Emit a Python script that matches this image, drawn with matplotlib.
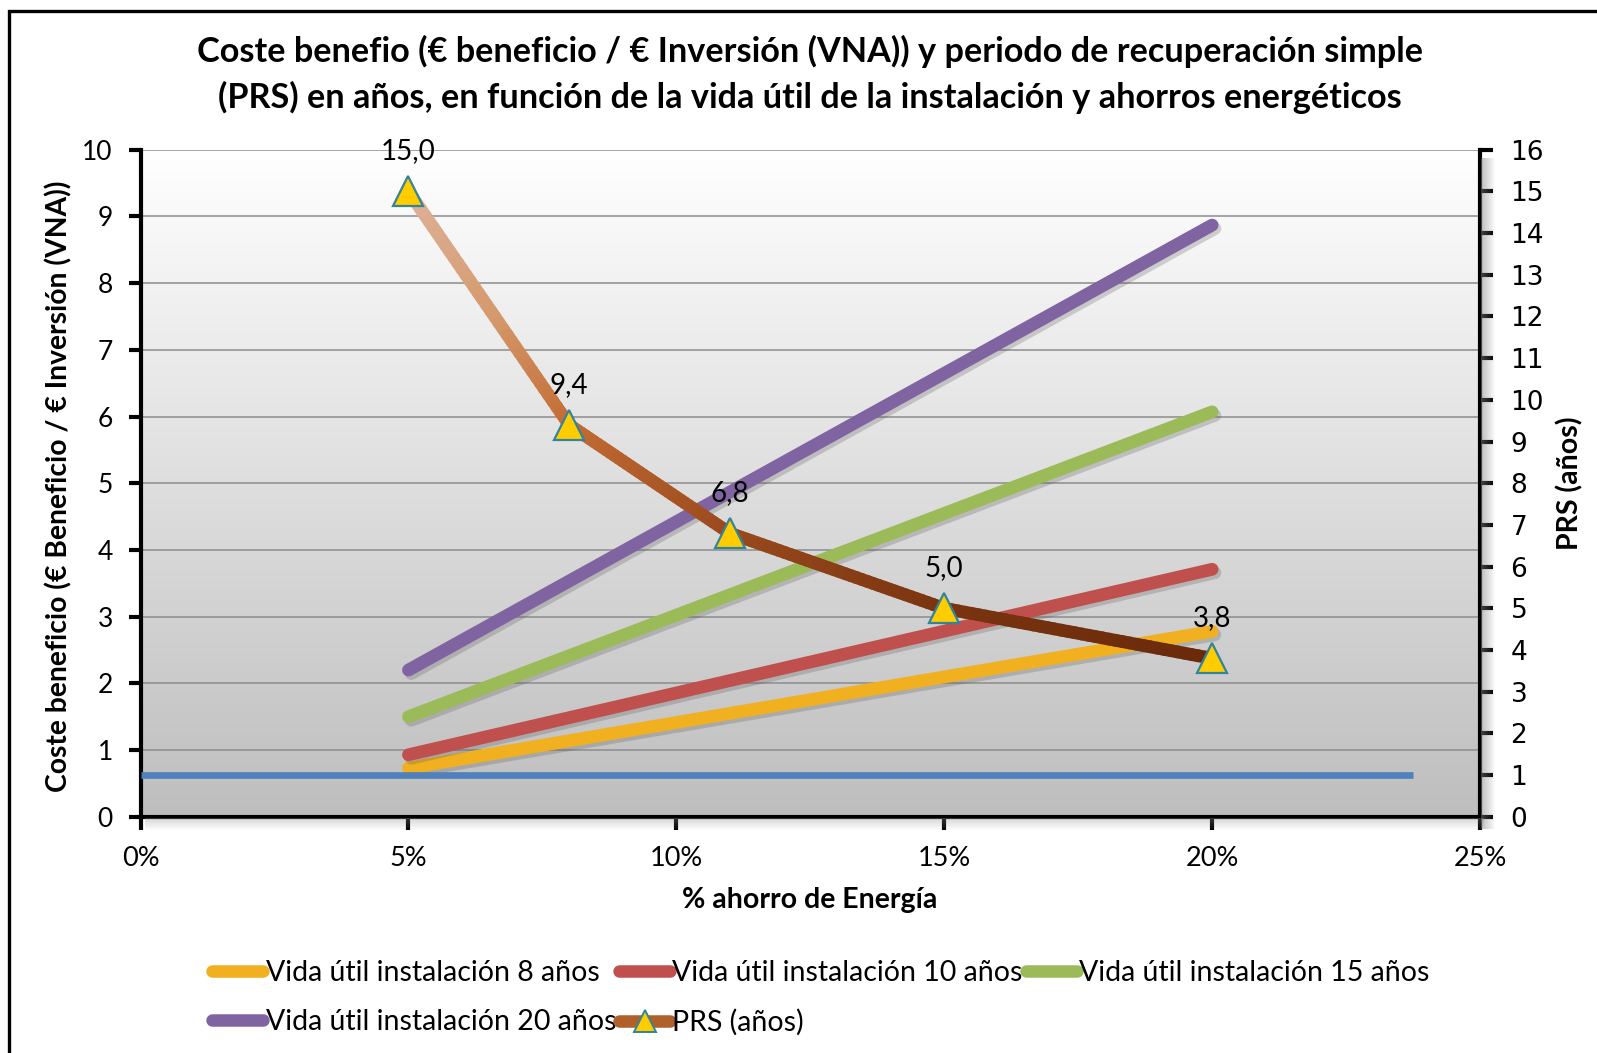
import numpy as np
import matplotlib
matplotlib.use("Agg")
import matplotlib.pyplot as plt
from matplotlib.colors import LinearSegmentedColormap
from matplotlib.collections import LineCollection
from matplotlib.lines import Line2D
from matplotlib.patches import Rectangle
import matplotlib.patheffects as pe

# ---------------- data ----------------
title_l1 = "Coste benefio (€ beneficio / € Inversión (VNA)) y periodo de recuperación simple"
title_l2 = "(PRS) en años, en función de la vida útil de la instalación y ahorros energéticos"
ylabel_left = "Coste beneficio (€ Beneficio / € Inversión (VNA))"
ylabel_right = "PRS (años)"
xlabel = "% ahorro de Energía"

x_cb = [0.05, 0.20]
cb_8 = [0.73, 2.78]
cb_10 = [0.93, 3.71]
cb_15 = [1.50, 6.07]
cb_20 = [2.20, 8.87]
series_names = ["Vida útil instalación 8 años", "Vida útil instalación 10 años",
                "Vida útil instalación 15 años", "Vida útil instalación 20 años"]
series_colors = ["#F0B020", "#C0504D", "#9BBB59", "#8064A2"]

x_prs = [0.05, 0.08, 0.11, 0.15, 0.20]
prs = [15.0, 9.4, 6.8, 5.0, 3.8]
prs_labels = ["15,0", "9,4", "6,8", "5,0", "3,8"]
prs_name = "PRS (años)"

x_ref = [0.0, 0.2375]
y_ref = [1.0, 1.0]

x_ticks = [0, 0.05, 0.10, 0.15, 0.20, 0.25]
x_ticklabels = ["0%", "5%", "10%", "15%", "20%", "25%"]
yl_ticks = list(range(0, 11))
yr_ticks = list(range(0, 17))

# ---------------- figure ----------------
W, H = 1597, 1053
fig = plt.figure(figsize=(W / 100, H / 100), dpi=100)
FONT = "Lato"

# outer border (extends past right and bottom edges)
fig.patches.append(Rectangle((9 / W, -0.1), 1.2, 1 - 11 / H + 0.1, transform=fig.transFigure,
                             fill=False, edgecolor="black", lw=2.4, zorder=0))

L, R, T, B = 140.6, 1480.0, 149.7, 816.8
ax = fig.add_axes([L / W, 1 - B / H, (R - L) / W, (B - T) / H])

# axis shadows
for i in range(14):
    a = 0.5 * (1 - i / 14)
    fig.patches.append(Rectangle(((R + 1 + i) / W, 1 - (B + 12) / H), 1 / W, (B - T + 4) / H,
                                 transform=fig.transFigure, color="#7f7f7f", alpha=a, lw=0, zorder=0.5))
for i in range(12):
    a = 0.35 * (1 - i / 12)
    fig.patches.append(Rectangle(((L + 4) / W, 1 - (B + 2 + i) / H), (R - L) / W, 1 / H,
                                 transform=fig.transFigure, color="#8f8f8f", alpha=a, lw=0, zorder=0.5))

# gradient background
grad = LinearSegmentedColormap.from_list("bg", ["#BEBEBE", "#FFFFFF"])
ax.imshow(np.linspace(0, 1, 256).reshape(-1, 1), cmap=grad, origin="lower",
          extent=[0, 0.25, 0, 10], aspect="auto", zorder=0)
ax.set_xlim(0, 0.25)
ax.set_ylim(0, 10)
ax.set_yticks(yl_ticks)
ax.set_xticks(x_ticks)
ax.set_xticklabels(x_ticklabels)
ax.yaxis.grid(True, color="#8C8C8C", lw=1.1, zorder=0.6)
ax.set_axisbelow(True)

shadow = [pe.SimpleLineShadow(offset=(2, -2.5), shadow_color="#555555", alpha=0.25), pe.Normal()]
for ys, c in zip([cb_8, cb_10, cb_15, cb_20], series_colors):
    ax.plot(x_cb, ys, color=c, lw=9.2, solid_capstyle="round", zorder=3, path_effects=shadow)

for side in ["top", "right"]:
    ax.spines[side].set_visible(False)
for side in ["left", "bottom"]:
    ax.spines[side].set_linewidth(3)
ax.tick_params(axis="both", direction="out", length=9, width=3, colors="black")
ax.tick_params(axis="y", pad=11, labelsize=19)
ax.tick_params(axis="x", pad=12, labelsize=19.5)
for t in ax.get_xticklabels() + ax.get_yticklabels():
    t.set_fontfamily(FONT)

# secondary axis
ax2 = ax.twinx()
ax2.set_ylim(0, 16)
ax2.set_yticks(yr_ticks)
for side in ["top", "left", "bottom"]:
    ax2.spines[side].set_visible(False)
ax2.spines["right"].set_linewidth(3)
ax2.tick_params(axis="y", direction="out", length=9, width=3, pad=13, labelsize=19)
for t in ax2.get_yticklabels():
    t.set_fontfamily("DejaVu Sans")

ax2.plot(x_ref, y_ref, color="#4F81BD", lw=4.8, solid_capstyle="butt", zorder=4)

# PRS line with vertical gradient
prs_cmap = LinearSegmentedColormap.from_list(
    "prs", [(0.0, "#6A2A0A"), (0.107, "#7A3510"), (0.268, "#9B4A1E"),
            (0.5, "#C46D35"), (0.73, "#D59A6E"), (1.0, "#DEB29A")])
segs, vals = [], []
for i in range(len(x_prs) - 1):
    xs = np.linspace(x_prs[i], x_prs[i + 1], 40)
    ys = np.linspace(prs[i], prs[i + 1], 40)
    pts = np.column_stack([xs, ys])
    for j in range(len(pts) - 1):
        segs.append(pts[j:j + 2])
        vals.append((ys[j] + ys[j + 1]) / 2)
lc = LineCollection(segs, cmap=prs_cmap, norm=plt.Normalize(min(prs), max(prs)),
                    linewidths=9.2, capstyle="round", zorder=5)
lc.set_array(np.array(vals))
ax2.add_collection(lc)
ax2.plot(x_prs, prs, linestyle="none", marker="^", markersize=21, markerfacecolor="#FFCC00",
         markeredgecolor="#31849B", markeredgewidth=1.6, zorder=6)
for xv, yv, lab in zip(x_prs, prs, prs_labels):
    ax2.annotate(lab, (xv, yv), xytext=(0, 29), textcoords="offset points", ha="center",
                 va="center", fontsize=20, family=FONT, zorder=7)

# labels
ax.set_ylabel(ylabel_left, fontsize=20.3, fontweight="bold", family=FONT, va="center")
ax.yaxis.set_label_coords(-0.061, 0.495)
ax2.set_ylabel(ylabel_right, fontsize=20.5, fontweight="bold", family=FONT, va="center")
ax2.yaxis.set_label_coords(1.067, 0.5)
fig.text(810 / W, 1 - 900 / H, xlabel, ha="center", va="center", fontsize=20.5,
         fontweight="bold", family=FONT)

fig.text(810 / W, 1 - 51 / H, title_l1, ha="center", va="center", fontsize=24.7,
         fontweight="bold", family=FONT)
fig.text(810 / W, 1 - 97 / H, title_l2, ha="center", va="center", fontsize=24.7,
         fontweight="bold", family=FONT)

# legend (row-major order for 3 columns)
handles = [Line2D([], [], color=c, lw=9, solid_capstyle="round") for c in series_colors]
prs_handle = Line2D([], [], color="#B0602A", lw=9, solid_capstyle="round", marker="^",
                    markersize=16, markerfacecolor="#FFCC00", markeredgecolor="#31849B",
                    markeredgewidth=1.4)
order_h = [handles[0], handles[3], handles[1], prs_handle, handles[2]]
order_l = [series_names[0], series_names[3], series_names[1], prs_name, series_names[2]]
leg = fig.legend(order_h, order_l, ncol=3, loc="upper left",
                 bbox_to_anchor=(212 / W, 1 - 960 / H), frameon=False,
                 prop={"family": FONT, "size": 20.5}, handlelength=1.8, handletextpad=0.08,
                 columnspacing=0.1, labelspacing=0.82, borderpad=0, borderaxespad=0)

fig.savefig("out.png", dpi=100)
